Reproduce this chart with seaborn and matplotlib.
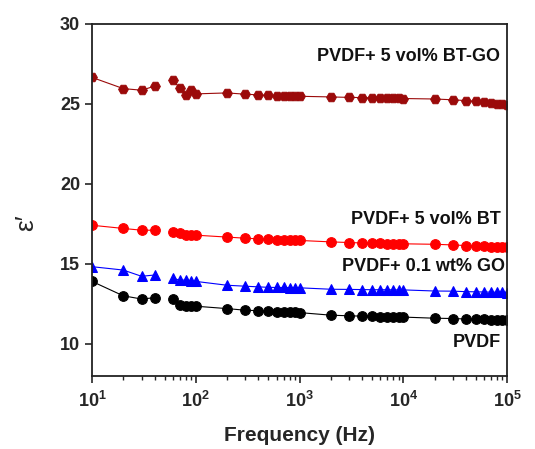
import matplotlib

matplotlib.use("Agg")

import matplotlib.pyplot as plt
import numpy as np
import pandas as pd
import seaborn as sns

# frequency sweep (Hz); 50 Hz is missing in the measurement, so the line breaks there
freq = [10, 20, 30, 40, 60, 70, 80, 90, 100,
        200, 300, 400, 500, 600, 700, 800, 900, 1000,
        2000, 3000, 4000, 5000, 6000, 7000, 8000, 9000, 10000,
        20000, 30000, 40000, 50000, 60000, 70000, 80000, 90000, 100000]

eps_btgo = [26.65, 25.95, 25.85, 26.10, 26.50, 25.97, 25.56, 25.85, 25.62,
            25.68, 25.60, 25.56, 25.52, 25.51, 25.50, 25.49, 25.48, 25.47,
            25.43, 25.40, 25.39, 25.37, 25.36, 25.35, 25.35, 25.34, 25.33,
            25.30, 25.25, 25.20, 25.15, 25.10, 25.05, 25.00, 24.96, 24.92]
eps_bt = [17.41, 17.21, 17.10, 17.10, 16.96, 16.90, 16.83, 16.82, 16.79,
          16.67, 16.60, 16.56, 16.52, 16.50, 16.49, 16.48, 16.47, 16.46,
          16.37, 16.33, 16.30, 16.28, 16.27, 16.26, 16.26, 16.25, 16.25,
          16.22, 16.18, 16.14, 16.12, 16.10, 16.08, 16.07, 16.06, 16.05]
eps_go = [14.82, 14.61, 14.22, 14.30, 14.10, 13.97, 13.99, 13.90, 13.90,
          13.66, 13.60, 13.56, 13.53, 13.52, 13.52, 13.51, 13.51, 13.50,
          13.41, 13.40, 13.39, 13.38, 13.38, 13.38, 13.37, 13.37, 13.37,
          13.30, 13.29, 13.26, 13.25, 13.24, 13.23, 13.22, 13.21, 13.20]
eps_pvdf = [13.90, 13.00, 12.80, 12.88, 12.80, 12.43, 12.35, 12.35, 12.35,
            12.20, 12.10, 12.07, 12.02, 12.00, 11.98, 11.97, 11.96, 11.95,
            11.79, 11.75, 11.73, 11.71, 11.70, 11.69, 11.68, 11.68, 11.67,
            11.60, 11.58, 11.55, 11.53, 11.52, 11.50, 11.49, 11.48, 11.47]

series_names = ["PVDF+ 5 vol% BT-GO", "PVDF+ 5 vol% BT", "PVDF+ 0.1 wt% GO", "PVDF"]
series_values = [eps_btgo, eps_bt, eps_go, eps_pvdf]
series_colors = ["#9b0a0a", "#ff0000", "#0000ff", "#000000"]
series_markers = ["H", "o", "^", "o"]
label_pos = [(85000, 27.94), (86000, 17.79), (95000, 14.86), (86000, 10.06)]

sns.set_style("ticks")
plt.rcParams["font.family"] = ["Liberation Sans", "DejaVu Sans"]
plt.rcParams["font.weight"] = "bold"
plt.rcParams["mathtext.fontset"] = "custom"
plt.rcParams["mathtext.rm"] = "Liberation Sans:bold"
plt.rcParams["mathtext.default"] = "rm"

rows = []
for name, values in zip(series_names, series_values):
    for f, v in zip(freq, values):
        rows.append({"series": name, "freq": f, "eps": v, "seg": 0 if f < 50 else 1})
df = pd.DataFrame(rows)

fig = plt.figure(figsize=(5.35, 4.49), dpi=100)
ax = fig.add_axes([0.172, 0.163, 0.776, 0.784])

for name, color, marker in zip(series_names, series_colors, series_markers):
    sub = df[df["series"] == name]
    sns.lineplot(data=sub, x="freq", y="eps", units="seg", estimator=None,
                 color=color, marker=marker, markersize=7 if marker != "^" else 7.5,
                 markeredgecolor=color, linewidth=0.8, ax=ax, legend=False)

ax.set_xscale("log")
ax.set_xlim(10, 1e5)
ax.set_ylim(8, 30)
ax.set_yticks([10, 15, 20, 25, 30])

for name, color, (x, y) in zip(series_names, series_colors, label_pos):
    ax.text(x, y, name, ha="right", va="center", fontsize=13, fontweight="bold", color="#111111")

ax.set_xlabel("Frequency (Hz)", fontsize=15, fontweight="bold", labelpad=11)
ax.set_ylabel("ε′", fontsize=19, fontweight="normal")
ax.yaxis.set_label_coords(-0.13, 0.435)

for side in ["top", "right", "bottom", "left"]:
    ax.spines[side].set_visible(True)
    ax.spines[side].set_linewidth(1.3)
    ax.spines[side].set_color("#222222")
ax.tick_params(axis="both", which="major", direction="out", length=5, width=1.2,
               labelsize=13, top=False, right=False)
ax.tick_params(axis="x", which="major", pad=6)
ax.tick_params(axis="x", which="minor", direction="out", length=3, width=1.0, top=False)
ax.tick_params(axis="y", which="minor", left=False)
for lbl in ax.get_xticklabels() + ax.get_yticklabels():
    lbl.set_fontweight("bold")

fig.savefig("out.png", dpi=100)
